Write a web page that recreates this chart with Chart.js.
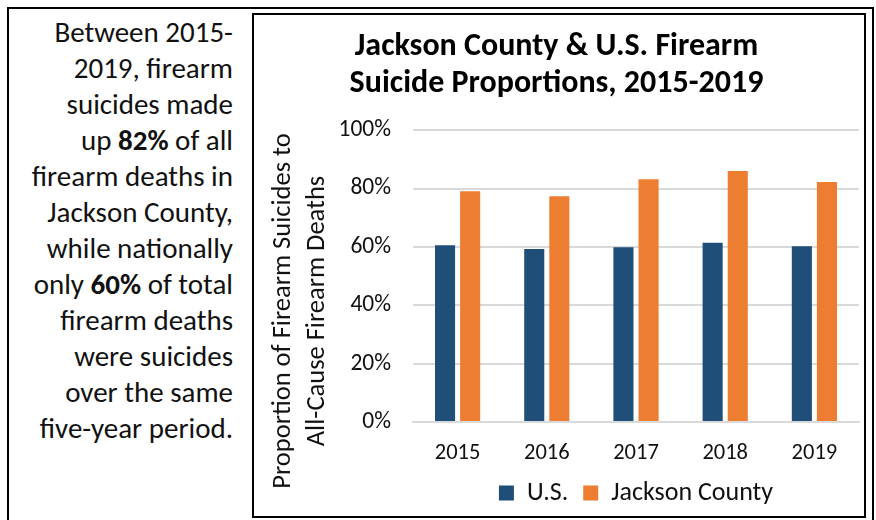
<!DOCTYPE html>
<html>
<head>
<meta charset="utf-8">
<script src="https://cdn.jsdelivr.net/npm/chart.js@4.4.1/dist/chart.umd.min.js"></script>
<style>
  html, body { margin: 0; padding: 0; background: #fff; }
  body { width: 876px; height: 520px; position: relative; overflow: hidden; font-family: Carlito, Calibri, Lato, sans-serif; }
  .frame { position: absolute; left: 7px; top: 7px; width: 867px; height: 520px; border: 2px solid #000; box-sizing: border-box; }
  .note { position: absolute; left: 2px; width: 231px; top: 14px; text-align: right; font-size: 29px; line-height: 36px; color: #111; }
  .note b { font-weight: 700; }
  .box { position: absolute; left: 252px; top: 13px; width: 614px; height: 505px; border: 2px solid #000; box-sizing: border-box; background: #fff; }
  #chart { position: absolute; left: 0; top: 0; }
  .ytitle { position: absolute; left: 298px; top: 311px; width: 440px; transform: translate(-50%, -50%) rotate(-90deg); text-align: center; font-size: 26.5px; line-height: 34px; color: #111; }
</style>
</head>
<body>
<div class="frame"></div>
<div class="note">Between 2015-<br>2019, firearm<br>suicides made<br>up <b>82%</b> of all<br>firearm deaths in<br>Jackson County,<br>while nationally<br>only <b>60%</b> of total<br>firearm deaths<br>were suicides<br>over the same<br>five-year period.</div>
<div class="box"><canvas id="chart" width="610" height="501"></canvas></div>
<div class="ytitle">Proportion of Firearm Suicides to<br>All-Cause Firearm Deaths</div>
<script>
const years = ['2015', '2016', '2017', '2018', '2019'];
const usShare = [60.6, 59.3, 59.9, 61.4, 60.2];
const jacksonShare = [79.1, 77.4, 83.2, 86.0, 82.3];
const seriesNames = ['U.S.', 'Jackson County'];
const seriesColors = ['#1F4E79', '#ED7D31'];
const titleLines = ['Jackson County & U.S. Firearm', 'Suicide Proportions, 2015-2019'];

const fontFamily = 'Carlito, Calibri, Lato, sans-serif';

// legend centred on the plot area rather than on the whole canvas
const legendOverPlot = {
  id: 'legendOverPlot',
  afterLayout(chart) {
    const a = chart.chartArea;
    chart.legend.left = a.left;
    chart.legend.right = a.right;
  }
};

new Chart(document.getElementById('chart'), {
  type: 'bar',
  data: {
    labels: years,
    datasets: [
      { label: seriesNames[0], data: usShare, backgroundColor: seriesColors[0] },
      { label: seriesNames[1], data: jacksonShare, backgroundColor: seriesColors[1] }
    ]
  },
  plugins: [legendOverPlot],
  options: {
    responsive: false,
    animation: false,
    categoryPercentage: 0.563,
    barPercentage: 0.8,
    layout: { padding: { left: 0, right: 5, top: 0, bottom: 0 } },
    plugins: {
      title: {
        display: true,
        text: titleLines,
        color: '#000',
        font: { family: fontFamily, size: 32, weight: 'bold', lineHeight: 1.16 },
        padding: { top: 13, bottom: 28 }
      },
      legend: {
        position: 'bottom',
        labels: {
          boxWidth: 15, boxHeight: 15, padding: 15,
          color: '#111',
          font: { family: fontFamily, size: 26 }
        }
      },
      tooltip: { enabled: false }
    },
    scales: {
      x: {
        afterFit(scale) { scale.height = 43; },
        grid: { display: false },
        border: { color: '#d9d9d9', width: 2 },
        ticks: { color: '#111', font: { family: fontFamily, size: 22.5 }, padding: 10 }
      },
      y: {
        min: 0, max: 100,
        afterFit(scale) { scale.width = 159; },
        grid: { color: '#d9d9d9', lineWidth: 2, drawTicks: false },
        border: { display: false },
        ticks: {
          stepSize: 20, padding: 22, color: '#111',
          font: { family: fontFamily, size: 23.5 },
          callback: v => v + '%'
        }
      }
    }
  }
});
</script>
</body>
</html>
